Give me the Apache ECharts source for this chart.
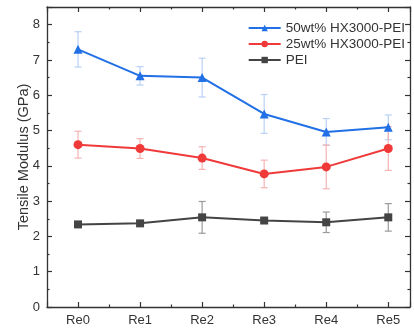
<!DOCTYPE html>
<html>
<head>
<meta charset="utf-8">
<script src="https://cdn.jsdelivr.net/npm/echarts@6/dist/echarts.min.js"></script>
<style>
  html, body { margin: 0; padding: 0; background: #fff; }
  #chart { width: 414px; height: 329px; }
</style>
</head>
<body>
<div id="chart"></div>
<script>
// Recycling rounds on the x axis
var categories = ['Re0', 'Re1', 'Re2', 'Re3', 'Re4', 'Re5'];

// Tensile modulus (GPa) and standard deviation per round
var hx50Values = [7.30, 6.55, 6.50, 5.47, 4.96, 5.09];
var hx50Errors = [0.50, 0.26, 0.55, 0.55, 0.38, 0.35];
var hx25Values = [4.60, 4.49, 4.22, 3.77, 3.97, 4.49];
var hx25Errors = [0.38, 0.28, 0.32, 0.39, 0.62, 0.62];
var peiValues  = [2.34, 2.37, 2.54, 2.45, 2.40, 2.54];
var peiErrors  = [0.06, 0.06, 0.45, 0.07, 0.29, 0.39];

var yTicks = [0, 1, 2, 3, 4, 5, 6, 7, 8];

var FONT = 'Liberation Sans, Arial, sans-serif';
var AXIS_COLOR = '#333';

function points(values) {
  return values.map(function (v, i) { return [i, v]; });
}
function errorRows(values, errors) {
  return values.map(function (v, i) { return [i, v - errors[i], v + errors[i]]; });
}

function errorBarSeries(name, values, errors, color) {
  return {
    type: 'custom',
    name: name + ' err',
    z: 1,
    silent: true,
    data: errorRows(values, errors),
    encode: { x: 0, y: [1, 2] },
    renderItem: function (params, api) {
      var x = api.value(0);
      var lo = api.coord([x, api.value(1)]);
      var hi = api.coord([x, api.value(2)]);
      var half = 3.5;
      var style = { stroke: color, lineWidth: 1.2, fill: null };
      return {
        type: 'group',
        children: [
          { type: 'line', shape: { x1: lo[0], y1: lo[1], x2: hi[0], y2: hi[1] }, style: style },
          { type: 'line', shape: { x1: lo[0] - half, y1: lo[1], x2: lo[0] + half, y2: lo[1] }, style: style },
          { type: 'line', shape: { x1: hi[0] - half, y1: hi[1], x2: hi[0] + half, y2: hi[1] }, style: style }
        ]
      };
    }
  };
}

function lineSeries(name, values, color, symbol, size) {
  return {
    type: 'line',
    name: name,
    z: 3,
    data: points(values),
    symbol: symbol,
    symbolSize: size,
    lineStyle: { color: color, width: 2 },
    itemStyle: { color: color },
    emphasis: { disabled: true }
  };
}

var baseAxis = {
  axisLine: { show: true, onZero: false, lineStyle: { color: AXIS_COLOR, width: 1.3 } },
  axisTick: { show: true, inside: true, length: 5, lineStyle: { color: AXIS_COLOR, width: 1.2 } },
  minorTick: { show: true, splitNumber: 2, length: 2.5, lineStyle: { color: AXIS_COLOR, width: 1.2 } },
  splitLine: { show: false }
};

function xAxisDef(pos, showLabels) {
  return Object.assign({}, baseAxis, {
    type: 'value',
    position: pos,
    min: -0.5,
    max: 5.35,
    axisLabel: {
      show: showLabels,
      showMinLabel: false,
      showMaxLabel: false,
      margin: 7,
      color: '#333',
      fontSize: 13,
      fontFamily: FONT,
      formatter: function (v) {
        return (Number.isInteger(v) && categories[v]) ? categories[v] : '';
      }
    }
  });
}

function yAxisDef(pos, showLabels) {
  return Object.assign({}, baseAxis, {
    type: 'value',
    position: pos,
    min: 0,
    max: 8.5,
    interval: 1,
    name: showLabels ? 'Tensile Modulus (GPa)' : '',
    nameLocation: 'middle',
    nameGap: 16,
    nameMoveOverlap: false,
    nameTextStyle: { fontSize: 14.5, color: '#333', fontFamily: FONT },
    axisLabel: {
      show: showLabels,
      showMaxLabel: false,
      margin: 7,
      color: '#333',
      fontSize: 13,
      fontFamily: FONT,
      formatter: function (v) { return yTicks.indexOf(v) >= 0 ? String(v) : ''; }
    }
  });
}

var chart = echarts.init(document.getElementById('chart'), null, { renderer: 'canvas' });

chart.setOption({
  animation: false,
  backgroundColor: '#fff',
  grid: { left: 47, top: 7, right: 4, bottom: 22, containLabel: false },
  xAxis: [xAxisDef('bottom', true), xAxisDef('top', false)],
  yAxis: [yAxisDef('left', true), yAxisDef('right', false)],
  legend: {
    orient: 'vertical',
    right: 4,
    top: 16,
    itemWidth: 32,
    itemHeight: 8,
    itemGap: 2,
    textStyle: { fontSize: 13.5, color: '#333', fontFamily: FONT },
    data: ['50wt% HX3000-PEI', '25wt% HX3000-PEI', 'PEI']
  },
  series: [
    errorBarSeries('50wt% HX3000-PEI', hx50Values, hx50Errors, '#b9d1f6'),
    errorBarSeries('25wt% HX3000-PEI', hx25Values, hx25Errors, '#f6b3b3'),
    errorBarSeries('PEI', peiValues, peiErrors, '#9a9a9a'),
    lineSeries('50wt% HX3000-PEI', hx50Values, '#2170e6', 'triangle', 9),
    lineSeries('25wt% HX3000-PEI', hx25Values, '#f03a3a', 'circle', 9),
    lineSeries('PEI', peiValues, '#444444', 'rect', 8)
  ]
});
</script>
</body>
</html>
